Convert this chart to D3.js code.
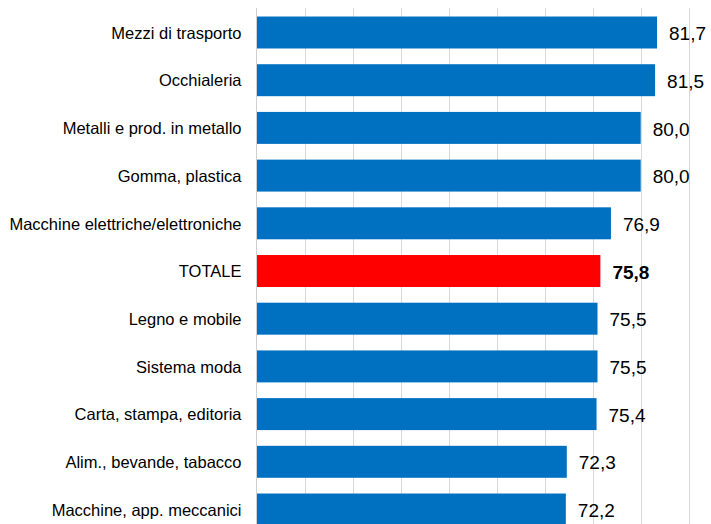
<!DOCTYPE html>
<html><head><meta charset="utf-8">
<script src="https://cdn.jsdelivr.net/npm/d3@7"></script>
<style>body{margin:0;background:#fff;}svg{display:block;}</style>
</head><body>
<script>
const categories = ["Mezzi di trasporto","Occhialeria","Metalli e prod. in metallo","Gomma, plastica","Macchine elettriche/elettroniche","TOTALE","Legno e mobile","Sistema moda","Carta, stampa, editoria","Alim., bevande, tabacco","Macchine, app. meccanici"];
const values = [81.7,81.5,80.0,80.0,76.9,75.8,75.5,75.5,75.4,72.3,72.2];
const highlight = "TOTALE";
const ticks = [40,45,50,55,60,65,70,75,80,85];

const W = 711, H = 524;
const svg = d3.select("body").append("svg").attr("width", W).attr("height", H);
const x = d3.scaleLinear().domain([40, 85]).range([256.7, 688.7]);
const y = d3.scaleBand().domain(categories).range([8.65, 8.65 + 11*47.7]).paddingInner(0.33).paddingOuter(0.165);

const fmt = v => d3.format(".1f")(v).replace(".", ",");

svg.append("g").selectAll("line").data(ticks.slice(1)).join("line")
  .attr("x1", d => Math.round(x(d)) + 0.5).attr("x2", d => Math.round(x(d)) + 0.5)
  .attr("y1", 8).attr("y2", H)
  .attr("stroke", "#d9d9d9").attr("stroke-width", 1);

svg.append("line").attr("x1", 256.5).attr("x2", 256.5).attr("y1", 8).attr("y2", H)
  .attr("stroke", "#d0d0d0").attr("stroke-width", 1);

const rows = categories.map((c, i) => ({c, v: values[i]}));

svg.append("g").selectAll("rect").data(rows).join("rect")
  .attr("x", x(40) + 0.3).attr("y", d => y(d.c))
  .attr("width", d => x(d.v) - x(40) - 0.3).attr("height", y.bandwidth())
  .attr("fill", d => d.c === highlight ? "#FF0000" : "#0070C0");

svg.append("g").selectAll("text").data(rows).join("text")
  .attr("x", 241.5).attr("y", d => y(d.c) + y.bandwidth()/2 + 0.5).attr("dy", "0.35em")
  .attr("text-anchor", "end")
  .attr("font-family", "Liberation Sans, Arial, sans-serif").attr("font-size", 16.5)
  .attr("fill", "#000").text(d => d.c);

svg.append("g").selectAll("text").data(rows).join("text")
  .attr("x", d => x(d.v) + 12).attr("y", d => y(d.c) + y.bandwidth()/2 + 1).attr("dy", "0.35em")
  .attr("font-family", "Liberation Sans, Arial, sans-serif").attr("font-size", 19)
  .attr("font-weight", d => d.c === highlight ? "bold" : "normal")
  .attr("fill", "#000").text(d => fmt(d.v));
</script>
</body></html>
